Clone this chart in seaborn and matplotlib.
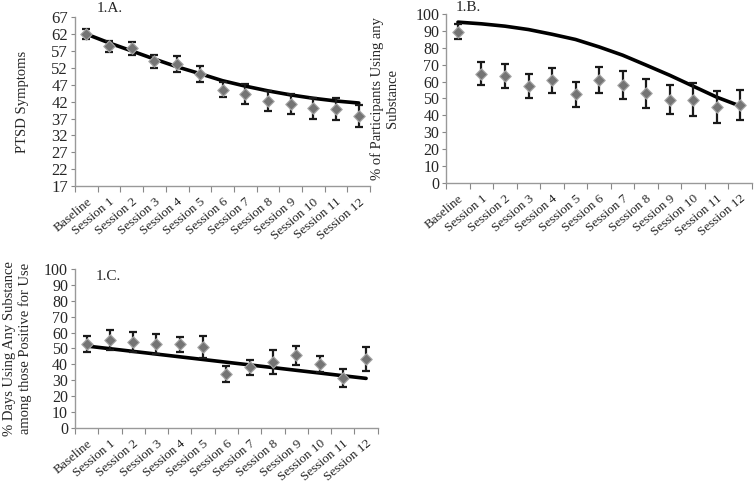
import numpy as np
import matplotlib
matplotlib.use("Agg")
import matplotlib.pyplot as plt
import seaborn as sns

# Session labels
sessions = ["Baseline"] + ["Session %d" % i for i in range(1, 13)]

# 1.A. PTSD symptoms
ptsd_mean = [62.1, 58.4, 57.8, 53.9, 53.1, 50.2, 45.6, 44.2, 42.3, 41.4, 40.0, 39.9, 37.7]
ptsd_err = [1.5, 1.6, 1.9, 1.8, 2.3, 2.3, 2.3, 3.0, 3.0, 3.0, 3.2, 3.2, 3.3]
ptsd_trend = [62.0, 59.4, 57.0, 54.6, 52.3, 50.3, 48.2, 46.6, 45.2, 44.0, 43.0, 42.2, 41.6]

# 1.B. % participants using any substance
use_mean = [89.7, 64.8, 63.2, 57.3, 60.7, 52.4, 60.9, 57.9, 53.0, 49.2, 49.4, 45.0, 46.2]
use_err = [4.6, 6.8, 7.0, 7.0, 7.2, 7.6, 7.7, 8.2, 8.5, 8.6, 9.5, 9.3, 9.0]
use_trend = [95.3, 94.3, 92.9, 90.9, 88.1, 85.0, 80.6, 75.7, 69.8, 63.8, 57.3, 50.8, 45.5]

# 1.C. % days using any substance among those positive for use
days_mean = [52.7, 55.4, 54.0, 52.9, 52.5, 51.0, 33.9, 38.0, 41.4, 45.6, 40.2, 31.4, 43.3]
days_err = [4.9, 6.4, 6.3, 6.3, 4.8, 6.8, 5.0, 5.0, 7.3, 5.9, 5.0, 5.9, 7.3]
days_trend = [51.5, 49.8, 48.1, 46.4, 44.7, 43.0, 41.3, 39.6, 37.9, 36.2, 34.5, 32.8, 31.1]

sns.set_theme(style="white")
plt.rcParams["font.family"] = ["Liberation Serif", "DejaVu Serif"]

fig = plt.figure(figsize=(7.55, 4.9), dpi=100)
ax_a = fig.add_axes([0.0993, 0.620, 0.391, 0.345])
ax_b = fig.add_axes([0.591, 0.627, 0.405, 0.344])
ax_c = fig.add_axes([0.0993, 0.127, 0.401, 0.324])

x = np.arange(len(sessions))


def draw_panel(ax, mean, err, trend, yticks, ylabel, ytick_size):
    sns.lineplot(x=x, y=trend, ax=ax, color="black", linewidth=2.6, zorder=2)
    ax.errorbar(x, mean, yerr=err, fmt="none", ecolor="#1a1a1a", elinewidth=1.6,
                capsize=3, capthick=1.6, zorder=3)
    sns.scatterplot(x=x, y=mean, ax=ax, marker="D", s=34, color="#747474",
                    edgecolor="#a8a8a8", linewidth=0.8, zorder=4)
    ax.set_xlim(-0.5, len(sessions) - 0.5)
    ax.set_ylim(yticks[0], yticks[-1])
    ax.set_yticks(yticks)
    ax.set_yticklabels([str(t) for t in yticks], fontsize=ytick_size)
    ax.set_xticks(x)
    ax.set_xticklabels(sessions, rotation=40, ha="right", rotation_mode="anchor", fontsize=9.5)
    ax.set_xticks(np.arange(-0.5, len(sessions)), minor=True)
    ax.tick_params(axis="x", which="major", length=0, pad=7)
    ax.tick_params(axis="x", which="minor", length=4, width=0.8, color="#888888", direction="out", bottom=True)
    ax.tick_params(axis="y", length=3, width=0.8, color="#888888", direction="out", left=True, pad=2)
    for s in ["top", "right"]:
        ax.spines[s].set_visible(False)
    for s in ["left", "bottom"]:
        ax.spines[s].set_color("#999999")
        ax.spines[s].set_linewidth(1.0)
    ax.set_ylabel(ylabel, fontsize=10.5)
    ax.set_xlabel("")


draw_panel(ax_a, ptsd_mean, ptsd_err, ptsd_trend, list(range(17, 68, 5)), "PTSD Symptoms", 12)
ax_a.yaxis.set_label_coords(-0.155, 0.5)
ax_a.text(0.075, 1.05, "1.A.", transform=ax_a.transAxes, fontsize=11, va="center")

draw_panel(ax_b, use_mean, use_err, use_trend, list(range(0, 101, 10)),
           "% of Participants Using any\nSubstance", 11.5)
ax_b.yaxis.set_label_coords(-0.155, 0.5)
ax_b.text(0.03, 1.04, "1.B.", transform=ax_b.transAxes, fontsize=11, va="center")

draw_panel(ax_c, days_mean, days_err, days_trend, list(range(0, 101, 10)),
           "% Days Using Any Substance\namong those Positive for Use", 11.5)
ax_c.yaxis.set_label_coords(-0.142, 0.5)
ax_c.text(0.07, 0.95, "1.C.", transform=ax_c.transAxes, fontsize=11, va="center")

fig.savefig("out.png", dpi=100)
